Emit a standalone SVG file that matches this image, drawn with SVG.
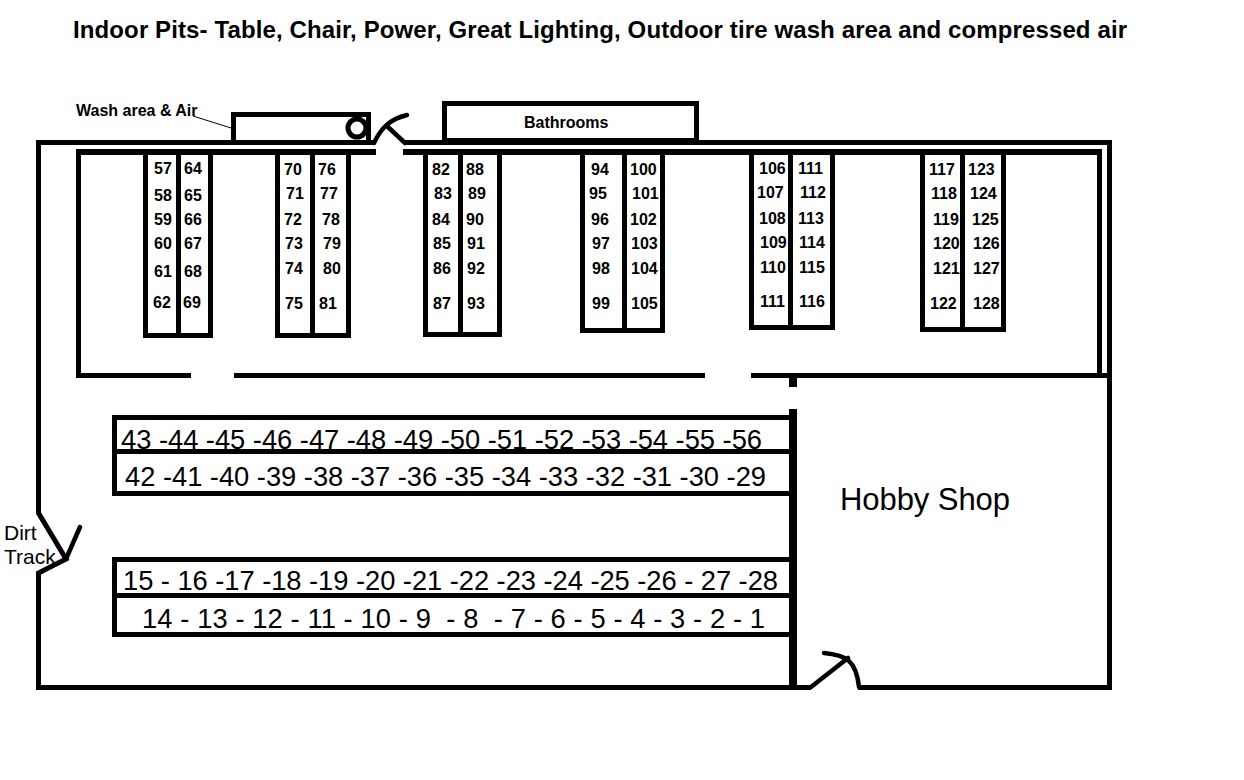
<svg xmlns="http://www.w3.org/2000/svg" width="1244" height="780" viewBox="0 0 1244 780">
<style>
text{font-family:"Liberation Sans",Arial,sans-serif;fill:#000}
.w{fill:none;stroke:#000;stroke-width:5}
.d{fill:none;stroke:#000;stroke-width:4.5;stroke-linecap:round;stroke-linejoin:round}
.n{font-size:16px;font-weight:bold}
.r{font-size:27.3px}
</style>
<rect width="1244" height="780" fill="#fff"/>
<text x="73" y="38" font-size="24" font-weight="bold" textLength="1054">Indoor Pits- Table, Chair, Power, Great Lighting, Outdoor tire wash area and compressed air</text>
<g id="walls">
<path class="w" d="M375 142.500H38.500V513L66 559L38.500 573V687.500H811M858 687.500H1109.500V142.500H405"/>
<path class="w" d="M78.500 152V375.500H191M234 375.500H705M751 375.500H1107M1099.500 375.500V152"/>
<path d="M76 152H376M403 152H1102" fill="none" stroke="#000" stroke-width="6"/>
<path d="M793 373V387M793 409V690" fill="none" stroke="#000" stroke-width="8"/>
</g>
<g id="wash-area">
<rect class="w" x="233.500" y="114.500" width="135" height="28"/>
<circle class="w" cx="357" cy="128" r="9"/>
<path d="M193 116L231 128" fill="none" stroke="#000" stroke-width="1"/>
<text x="76" y="116" class="n">Wash area &amp; Air</text>
</g>
<g id="bathrooms">
<rect class="w" x="444.500" y="103.500" width="252" height="37"/>
<text x="524" y="128" class="n">Bathrooms</text>
</g>
<g id="doors">
<path class="d" d="M374 143C381 128 390 119 407 115M388 127L405 143"/>
<path class="d" d="M66 559L80 527"/>
<path class="d" d="M811 687L848 658M824 653C846 655 856 660 859 687"/>
</g>
<g id="pit-block-1">
<path class="w" d="M145.500 152V335.500H210.500V152M178.500 152V335.500"/>
<g class="n"><text x="154" y="174">57</text><text x="154" y="201">58</text><text x="154" y="225">59</text><text x="154" y="249">60</text><text x="154" y="277">61</text><text x="153" y="308">62</text><text x="184" y="174">64</text><text x="184" y="201">65</text><text x="184" y="225">66</text><text x="184" y="249">67</text><text x="184" y="277">68</text><text x="183" y="308">69</text></g>
</g>
<g id="pit-block-2">
<path class="w" d="M277.500 152V335.500H348.500V152M312.500 152V335.500"/>
<g class="n"><text x="284" y="175">70</text><text x="286" y="199">71</text><text x="284" y="225">72</text><text x="285" y="249">73</text><text x="285" y="274">74</text><text x="285" y="309">75</text><text x="318" y="175">76</text><text x="320" y="199">77</text><text x="322" y="225">78</text><text x="323" y="249">79</text><text x="323" y="274">80</text><text x="319" y="309">81</text></g>
</g>
<g id="pit-block-3">
<path class="w" d="M425.500 152V334.500H499.500V152M460.500 152V334.500"/>
<g class="n"><text x="432" y="175">82</text><text x="434" y="199">83</text><text x="432" y="225">84</text><text x="433" y="249">85</text><text x="433" y="274">86</text><text x="433" y="309">87</text><text x="466" y="175">88</text><text x="468" y="199">89</text><text x="466" y="225">90</text><text x="467" y="249">91</text><text x="467" y="274">92</text><text x="467" y="309">93</text></g>
</g>
<g id="pit-block-4">
<path class="w" d="M582.500 152V330.500H662.500V152M624.500 152V330.500"/>
<g class="n"><text x="591" y="175">94</text><text x="589" y="199">95</text><text x="591" y="225">96</text><text x="592" y="249">97</text><text x="592" y="274">98</text><text x="592" y="309">99</text><text x="630" y="175">100</text><text x="632" y="199">101</text><text x="630" y="225">102</text><text x="631" y="249">103</text><text x="631" y="274">104</text><text x="631" y="309">105</text></g>
</g>
<g id="pit-block-5">
<path class="w" d="M751.500 152V327.500H832.500V152M790.500 152V327.500"/>
<g class="n"><text x="759" y="174">106</text><text x="757" y="198">107</text><text x="759" y="224">108</text><text x="760" y="248">109</text><text x="760" y="273">110</text><text x="760" y="307">111</text><text x="798" y="174">111</text><text x="800" y="198">112</text><text x="798" y="224">113</text><text x="799" y="248">114</text><text x="799" y="273">115</text><text x="799" y="307">116</text></g>
</g>
<g id="pit-block-6">
<path class="w" d="M922.500 152V329.500H1003.500V152M962.500 152V329.500"/>
<g class="n"><text x="929" y="175">117</text><text x="931" y="199">118</text><text x="933" y="225">119</text><text x="933" y="249">120</text><text x="933" y="274">121</text><text x="930" y="309">122</text><text x="968" y="175">123</text><text x="970" y="199">124</text><text x="972" y="225">125</text><text x="973" y="249">126</text><text x="973" y="274">127</text><text x="973" y="309">128</text></g>
</g>
<g id="rows-29-56">
<path class="w" d="M790 417.500H114.500V493.500H790M114.500 451.500H790"/>
<text class="r" x="121" y="449" textLength="641">43 -44 -45 -46 -47 -48 -49 -50 -51 -52 -53 -54 -55 -56</text>
<text class="r" x="125" y="486" textLength="641">42 -41 -40 -39 -38 -37 -36 -35 -34 -33 -32 -31 -30 -29</text>
</g>
<g id="rows-1-28">
<path class="w" d="M790 559.500H114.500V634.500H790M114.500 595.500H790"/>
<text class="r" x="123" y="590" textLength="655">15 - 16 -17 -18 -19 -20 -21 -22 -23 -24 -25 -26 - 27 -28</text>
<text class="r" x="142" y="628" xml:space="preserve" textLength="623">14 - 13 - 12 - 11 - 10 - 9  - 8  - 7 - 6 - 5 - 4 - 3 - 2 - 1</text>
</g>
<g id="hobby-shop"><text x="840" y="510" font-size="31" textLength="170">Hobby Shop</text></g>
<g id="dirt-track"><text x="4" y="540" font-size="21">Dirt</text><text x="4" y="564" font-size="21">Track</text></g>
</svg>
